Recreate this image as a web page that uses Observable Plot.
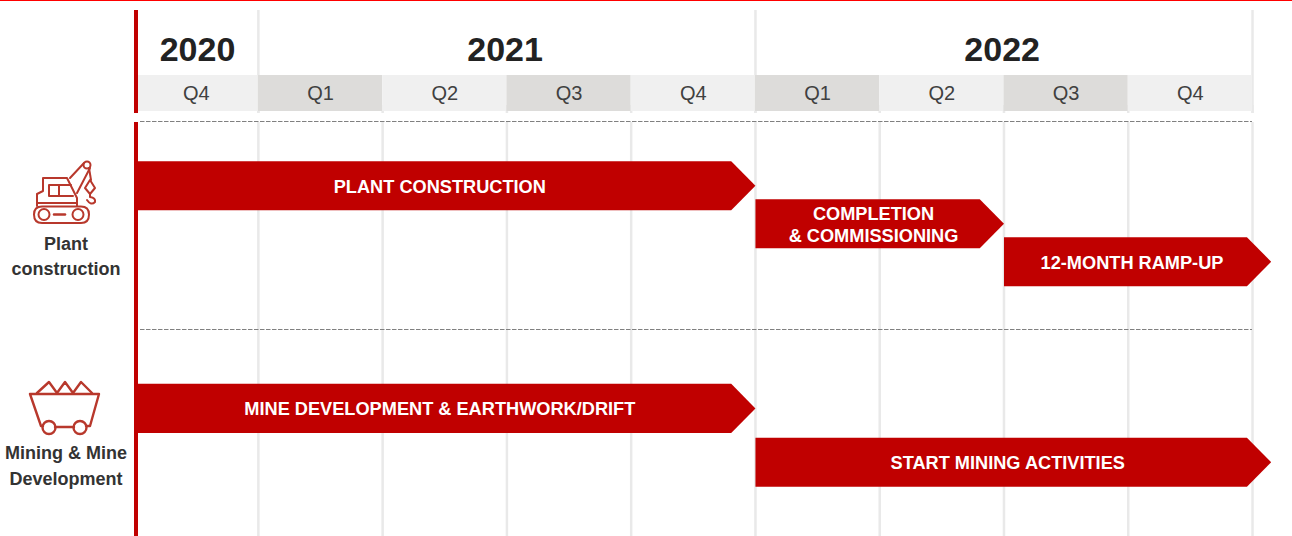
<!DOCTYPE html>
<html>
<head>
<meta charset="utf-8">
<script src="https://cdn.jsdelivr.net/npm/d3@7"></script>
<script src="https://cdn.jsdelivr.net/npm/@observablehq/plot@0.6"></script>
<style>html,body{margin:0;padding:0;background:#fff;overflow:hidden}svg{display:block}</style>
</head>
<body>
<div id="chart"></div>
<script>
// Data: time is measured in quarters since the start of 2020 Q4
const years = ["2020", "2021", "2022"];
const yearStart = [0, 1, 5];
const yearEnd = [1, 5, 9];
const yearLabelAt = [0.51, 2.985, 6.985];
const quarters = ["Q4", "Q1", "Q2", "Q3", "Q4", "Q1", "Q2", "Q3", "Q4"];
const taskLabels = ["PLANT CONSTRUCTION", "COMPLETION\n& COMMISSIONING", "12-MONTH RAMP-UP", "MINE DEVELOPMENT & EARTHWORK/DRIFT", "START MINING ACTIVITIES"];
const taskStart = [0, 5, 7, 0, 5];
const taskEnd = [5, 7, 9.15, 5, 9.15];
const taskLane = [0, 1, 2, 5.86, 7.28];
const taskLabelAt = [2.46, 5.95, 8.03, 2.46, 7.03];
const rowLabels = ["Plant\nconstruction", "Mining & Mine\nDevelopment"];

// Layout: scales map quarters and lanes across the whole page
const W = 1292, H = 536;
const X0 = 133.6, QW = 124.27, Y0 = 185.2, LH = 38;
const qx = px => (px - X0) / QW;
const ly = px => (px - Y0) / LH;
const RED = "#c00000", GRID = "#e9e9e9";
const SHOULDER = 0.195, HALF = 0.645;
const FONT = "'Liberation Sans', Arial, sans-serif";

const qIdx = quarters.map((_, i) => i);
const tIdx = taskLabels.map((_, i) => i);
const arrows = tIdx.flatMap(i => {
  const s = taskStart[i], e = taskEnd[i], l = taskLane[i];
  return [[s, l - HALF], [e - SHOULDER, l - HALF], [e, l], [e - SHOULDER, l + HALF], [s, l + HALF]]
    .map(([x, y]) => ({task: i, x, y}));
});

function icons() {
  const g = d3.create("svg:g").attr("fill", "none").attr("stroke", "#b8382c")
    .attr("stroke-width", 2).attr("stroke-linejoin", "round").attr("stroke-linecap", "round");
  const digger = [
    "M42 206.500 Q34 206.500 34 214.500 Q34 223 42 223 L81 223 Q89 223 89 214.500 Q89 206.500 81 206.500 Z",
    "M37 206 L37 194 L43 191 L43 178 L67 178 L77 198 L77 206",
    "M37 203 L77 203", "M49 185 L71 185 M49 196 L73 196 M49 185 L49 196 M59 185 L59 196",
    "M70 178 L84 163 M77 193 L90 168", "M89 168 L91 180",
    "M90 180 L95 188 L90 194 L85 188 Z", "M90 194 L90 197 Q96 198 95 202 Q91 206 87 200"
  ];
  digger.forEach(d => g.append("path").attr("d", d));
  g.append("circle").attr("cx", 87).attr("cy", 165).attr("r", 3.500);
  g.append("circle").attr("cx", 44).attr("cy", 214.500).attr("r", 5.500);
  g.append("circle").attr("cx", 78).attr("cy", 214.500).attr("r", 5.500);
  g.append("path").attr("d", "M54 214.500 L65 214.500").attr("stroke-width", 2.500);
  const cart = [
    "M30 394 L99 394 L90 426 L86 426 M30 394 L41 426 L43 426",
    "M55 427 L74 427",
    "M37 393 L49 382 L57 393 L65 382 L73 393 L81 382 L92 393"
  ];
  cart.forEach(d => g.append("path").attr("d", d).attr("stroke-width", 2.400));
  g.append("circle").attr("cx", 49).attr("cy", 427.500).attr("r", 6.500).attr("stroke-width", 2.400);
  g.append("circle").attr("cx", 80).attr("cy", 427.500).attr("r", 6.500).attr("stroke-width", 2.400);
  return g.node();
}

const chart = Plot.plot({
  width: W, height: H,
  marginTop: 0, marginRight: 0, marginBottom: 0, marginLeft: 0,
  style: {fontFamily: FONT, background: "#fff", overflow: "visible"},
  x: {domain: [qx(0), qx(W)], range: [0, W], axis: null},
  y: {domain: [ly(0), ly(H)], range: [0, H], axis: null},
  marks: [
    // top rule of the slide
    Plot.ruleY([ly(0)], {stroke: "#ff0000", strokeWidth: 1}),
    // grid in body and header
    Plot.ruleX(d3.range(1, 10), {y1: ly(122), y2: ly(H), stroke: GRID, strokeWidth: 2.5}),
    Plot.ruleX(d3.range(1, 10), {y1: ly(105), y2: ly(113), stroke: GRID, strokeWidth: 2.5}),
    Plot.ruleX([...yearStart.slice(1), 9], {y1: ly(10), y2: ly(113), stroke: GRID, strokeWidth: 2.5}),
    // quarter strip
    Plot.rect(qIdx, {
      x1: i => i === 0 ? qx(138) : i,
      x2: i => i + 1,
      y1: ly(75), y2: ly(111),
      fill: i => i % 2 ? "#dddcda" : "#f0f0f0"
    }),
    // dashed separators
    Plot.ruleY([ly(121), ly(329)], {x1: qx(140), x2: 9, stroke: "#808080", strokeWidth: 1, strokeDasharray: "4.500 1.500"}),
    // task arrows
    Plot.line(arrows, {x: "x", y: "y", z: "task", fill: RED, stroke: "none", curve: "linear-closed"}),
    // left axis bars
    Plot.ruleX([qx(135.500)], {y1: ly(10), y2: ly(113), stroke: RED, strokeWidth: 4}),
    Plot.ruleX([qx(135.500)], {y1: ly(122), y2: ly(H), stroke: RED, strokeWidth: 4}),
    // header text
    Plot.text(years, {
      x: (_, i) => yearLabelAt[i], y: ly(50), text: d => d,
      fontSize: 34, fontWeight: 700, fill: "#222"
    }),
    Plot.text(quarters, {
      x: (_, i) => i + 0.5, y: ly(93), text: d => d,
      fontSize: 20, fill: "#404040"
    }),
    // task text
    Plot.text(tIdx, {
      x: i => taskLabelAt[i], y: i => taskLane[i], text: i => taskLabels[i],
      fontSize: 18.200, fontWeight: 700, fill: "#fff", lineHeight: 1.2
    }),
    // row labels
    Plot.text(rowLabels, {
      x: qx(65.500), y: [ly(254), ly(463.500)], text: d => d,
      fontSize: 18, fontWeight: 700, fill: "#333", lineHeight: 1.42
    }),
    icons
  ]
});
document.getElementById("chart").appendChild(chart);
</script>
</body>
</html>
